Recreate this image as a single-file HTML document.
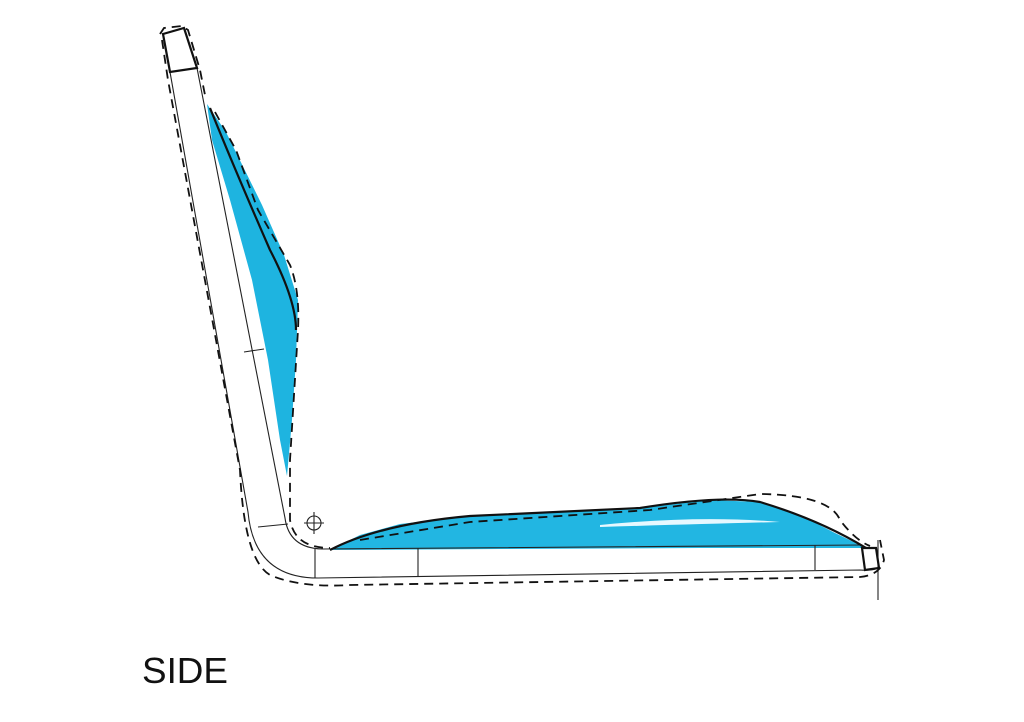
<!DOCTYPE html>
<html><head><meta charset="utf-8"><style>
html,body{margin:0;padding:0;background:#fff;}
svg{display:block}
</style></head><body>
<svg width="1024" height="722" viewBox="0 0 1024 722">
<rect width="1024" height="722" fill="#fff"/>
<path d="M207,104 L226,132 L262,205 L284,255 L298,300 L296,360 L292,420 L287,476 L280,440 L268,360 L252,280 L230,200 L212,140 Z" fill="#1eb4e0"/>
<path d="M330,550 L360,535 L400,524 L470,516 L560,512 L640,508 L710,500 L760,502 L800,515 L835,533 L866,548 L700,548 L500,549 Z" fill="#22b6e2"/>
<path d="M600,525 Q700,515 780,522 Q700,524 600,527 Z" fill="#e6f8ff"/>
<g fill="none" stroke="#222" stroke-width="1.1">
<path d="M170,72 L248,512 Q254,578 318,578 L860,570 Q872,571 878,568"/>
<path d="M197,68 L285,518 Q289,548 322,549 L862,545"/>
<path d="M244,352 L264,349 M258,527 L288,524 M315,549 L315,578 M418,548 L418,576 M815,545 L815,570"/>
<path d="M878,540 L878,600"/>
<circle cx="314" cy="523" r="7"/>
<path d="M304,523 L324,523 M314,512 L314,534"/>
</g>
<g fill="none" stroke="#111" stroke-width="2.2">
<path d="M163,34 L184,28 L197,68 L170,72 Z"/>
<path d="M862,548 L876,548 L879,568 L865,570 Z"/>
<path d="M330,550 Q380,524 470,516 L640,508 Q720,495 760,502 Q820,520 866,548"/>
<path d="M210,108 Q235,170 270,250 Q296,300 296,330"/>
</g>
<g fill="none" stroke="#111" stroke-width="1.8" stroke-dasharray="9,6">
<path d="M160,34 L164,28 L182,26 L188,30 L200,70 L206,100"/>
<path d="M162,40 L168,80 L240,470 Q244,560 270,575 Q300,588 350,585 L860,577 Q880,575 884,560 L880,540"/>
<path d="M215,112 L236,150 L258,210 L290,265 Q300,290 298,330 L290,460 L290,520 Q295,548 330,548"/>
<path d="M360,540 L470,522 L650,510 L760,494 Q830,495 840,520 Q855,540 870,546"/>
</g>
<text x="142" y="683" font-family="'Liberation Sans',sans-serif" font-size="36" fill="#111" textLength="86" lengthAdjust="spacingAndGlyphs">SIDE</text>
</svg>
</body></html>
